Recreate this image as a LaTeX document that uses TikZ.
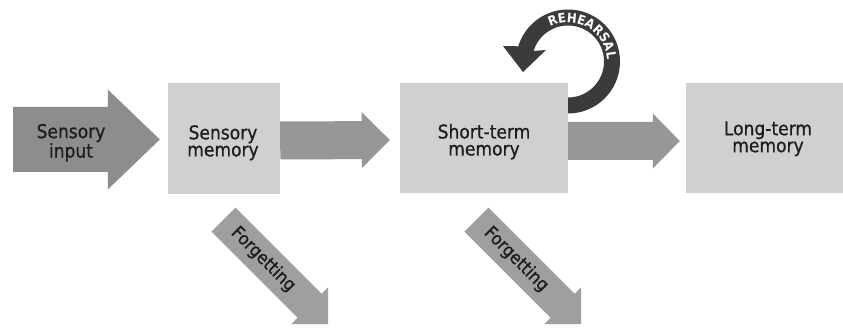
\documentclass[tikz,border=0pt]{standalone}
\usepackage{fontspec}
\newfontfamily\condf[FakeBold=0.7]{DejaVu Sans Condensed}
\newfontfamily\condbf{DejaVu Sans Condensed Bold}
\usetikzlibrary{calc,decorations.text}
\definecolor{boxc}{RGB}{206,208,210}
\definecolor{inarr}{RGB}{140,141,143}
\definecolor{linkarr}{RGB}{150,151,153}
\definecolor{forgarr}{RGB}{158,159,161}
\definecolor{rehc}{RGB}{58,59,61}
\definecolor{txtc}{RGB}{28,28,28}
\newcommand\lblfont{\condf\fontsize{19}{17}\selectfont}
\newcommand\forgfont{\condf\fontsize{18}{18}\selectfont}
\newcommand\rehfont{\condbf\fontsize{13}{13}\selectfont}
% #1 style, #2 start, #3 tip, #4 shaft half width, #5 head half width, #6 head length
\newcommand\fatarrow[6]{%
  \coordinate (fac) at ($(#3)!#6!(#2)$);
  \fill[#1] ($(#2)!#4!90:(#3)$) -- ($(fac)!#4!90:(#3)$) -- ($(fac)!#5!90:(#3)$)
    -- (#3) -- ($(fac)!#5!-90:(#3)$) -- ($(fac)!#4!-90:(#3)$) -- ($(#2)!#4!-90:(#3)$) -- cycle;}
\begin{document}
\begin{tikzpicture}[x=1pt,y=-1pt,
  membox/.style={fill=boxc, draw=none, inner sep=0pt},
  lbl/.style={align=center, text=txtc, inner sep=0pt, font=\lblfont},
  ftext/.style={text=txtc, inner sep=0pt, font=\forgfont}]
\path[use as bounding box, fill=white] (0,0) rectangle (843,328);

% rehearsal loop (drawn before the box so the box hides its start)
\coordinate (rc) at (568,61.5);
\fill[rehc] plot[domain=100:-163,samples=70] ({568+52*cos(\x)},{61.5+52*sin(\x)})
  -- (503,46) -- (523,72) -- (546,50)
  -- plot[domain=-163:100,samples=70] ({568+36*cos(\x)},{61.5+36*sin(\x)}) -- cycle;
\path[decorate, decoration={text along path, text align=center,
  text={|\rehfont\color{white}|REHEARSAL}}]
  plot[domain=-121:1,samples=70] ({568+39*cos(\x)},{61.5+39*sin(\x)});

% memory boxes
\node[membox, minimum width=112pt, minimum height=111pt] (sm) at (224,138.5) {};
\node[membox, minimum width=168pt, minimum height=110pt] (stm) at (484,138) {};
\node[membox, minimum width=157pt, minimum height=110pt] (ltm) at (764.5,138) {};

% sensory input arrow
\coordinate (ina) at (13,139.5);
\coordinate (inb) at ($(sm.west)+(-8,1)$);
\fatarrow{inarr}{ina}{inb}{32.5pt}{50pt}{52pt}
\node[lbl] (inl) at (71,142.75) {Sensory\\input};

% links between boxes
\coordinate (l1a) at ($(sm.east)+(0,2)$);
\coordinate (l1b) at ($(stm.west)+(-10,2)$);
\fatarrow{linkarr}{l1a}{l1b}{19pt}{28pt}{28pt}
\coordinate (l2a) at ($(stm.east)+(0,3)$);
\coordinate (l2b) at ($(ltm.west)+(-6,3)$);
\fatarrow{linkarr}{l2a}{l2b}{19pt}{27.5pt}{27pt}

% forgetting arrows
\coordinate (f1a) at ($(sm.south)+(-0.5,25.5)$);
\coordinate (f1b) at ($(f1a)+(104.5,104.5)$);
\fatarrow{forgarr}{f1a}{f1b}{17pt}{26pt}{26pt}
\path (f1a) -- (f1b) node[ftext, pos=0.38, sloped] (fl1) {Forgetting};
\coordinate (f2a) at ($(stm.south)+(-7.5,26.5)$);
\coordinate (f2b) at ($(f2a)+(104.5,104.5)$);
\fatarrow{forgarr}{f2a}{f2b}{17pt}{26pt}{26pt}
\path (f2a) -- (f2b) node[ftext, pos=0.38, sloped] (fl2) {Forgetting};

% box labels
\node[lbl] (sml) at ($(sm.center)+(-1,4.25)$) {Sensory\\memory};
\node[lbl] (stml) at ($(stm.center)+(0,3.75)$) {Short-term\\memory};
\node[lbl] (ltml) at ($(ltm.center)+(3.5,0.75)$) {Long-term\\memory};
\end{tikzpicture}
\end{document}
